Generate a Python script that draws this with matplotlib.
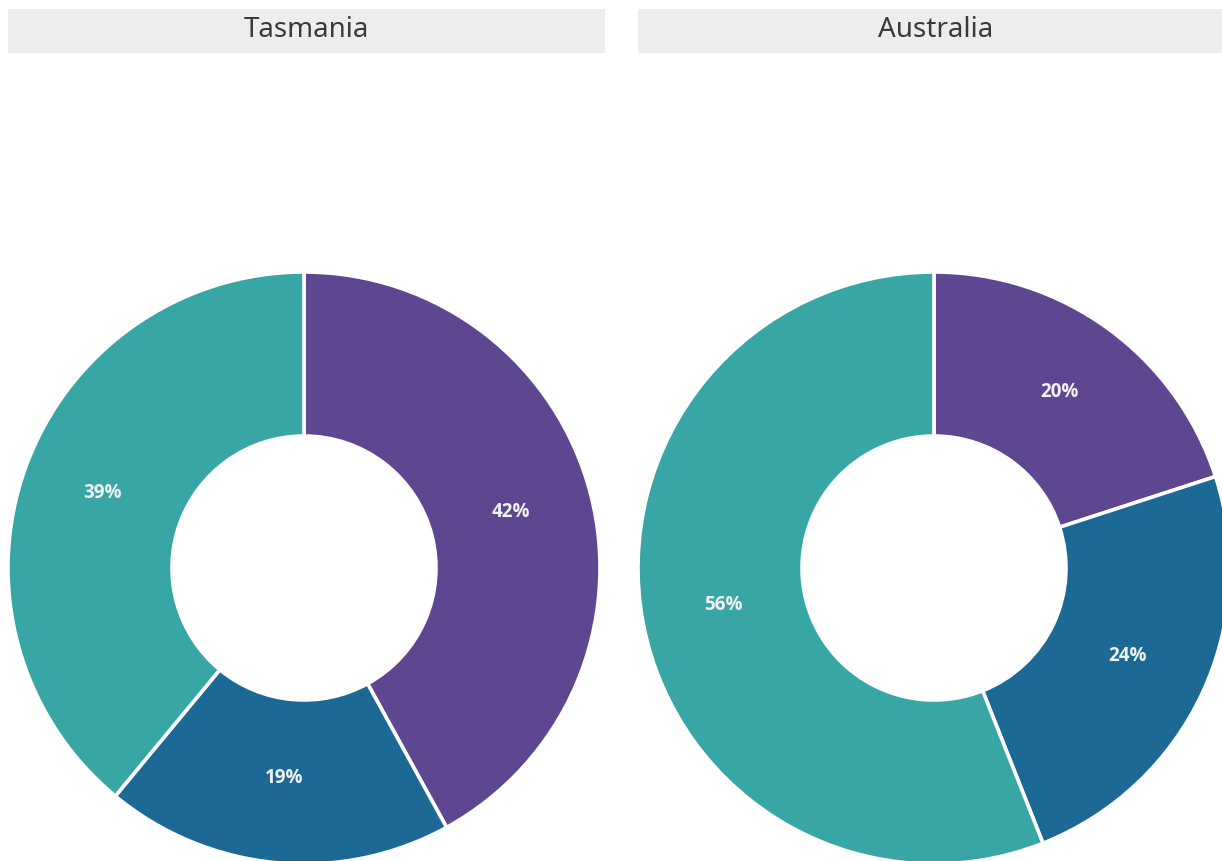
import matplotlib.pyplot as plt
from matplotlib.patches import Rectangle

# shares per region, clockwise from 12 o'clock
regions = ["Tasmania", "Australia"]
categories = ["A", "B", "C"]
tasmania = [42, 19, 39]
australia = [20, 24, 56]
colors = ["#5F4690", "#1D6996", "#38A6A5"]

W, H = 1222, 861
fig = plt.figure(figsize=(W / 100, H / 100), dpi=100)
ax = fig.add_axes([0, 0, 1, 1])

R_OUT, R_IN = 296, 132
centers = [(304, H - 568), (934, H - 568)]
strips = [(8, 605), (638, 1235)]
title_x = [306, 936]

for name, vals, (cx, cy), (x0, x1), tx in zip(regions, [tasmania, australia],
                                               centers, strips, title_x):
    wedges, texts, autotexts = ax.pie(
        vals, colors=colors, startangle=90, counterclock=False,
        center=(cx, cy), radius=R_OUT,
        autopct="%d%%", pctdistance=(R_OUT + R_IN) / 2 / R_OUT,
        wedgeprops=dict(width=R_OUT - R_IN, edgecolor="white", linewidth=2.6,
                        joinstyle="round"),
        textprops=dict(color="#F2F2F2", fontsize=13.5, fontweight="bold",
                       family="Open Sans"),
    )
    for t in autotexts:
        t.set_y(t.get_position()[1] + 3)
    # facet strip
    ax.add_patch(Rectangle((x0, H - 53), x1 - x0, 44, facecolor="#EDEDED",
                           edgecolor="none", zorder=0))
    ax.text(tx, H - 30, name, ha="center", va="center", fontsize=20,
            color="#3A3A3A", family="Noto Sans", fontweight="medium")

ax.set_xlim(0, W)
ax.set_ylim(0, H)
ax.set_aspect("auto")
ax.axis("off")

fig.savefig("out.png", dpi=100)
